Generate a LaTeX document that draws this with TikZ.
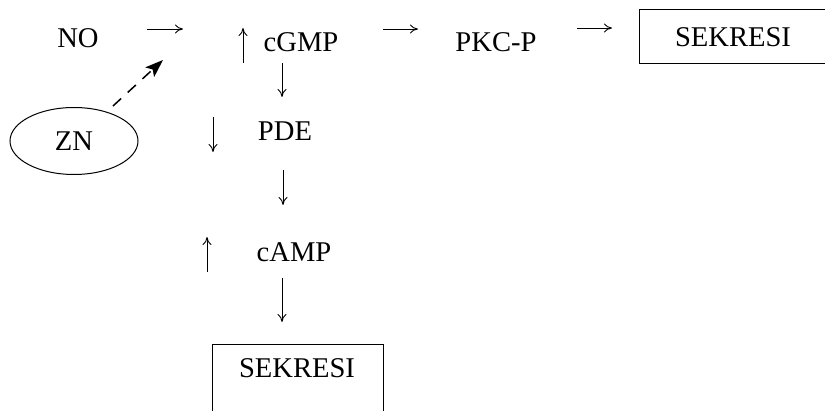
\documentclass[tikz,border=0pt]{standalone}
\usepackage{fontspec}
\setmainfont{Liberation Serif}
\usetikzlibrary{arrows.meta,shapes.geometric}
\begin{document}
\begin{tikzpicture}[x=0.5pt,y=-0.5pt,
  lbl/.style={inner sep=0pt,font=\fontsize{14.3}{17}\selectfont},
  boxnode/.style={draw,line width=0.5pt,inner sep=0pt,font=\fontsize{14.3}{17}\selectfont},
  thinarrow/.style={line width=0.45pt,-{To[length=4pt,width=4.5pt]}},
  dasharrow/.style={line width=0.75pt,dash pattern=on 5.5pt off 4.5pt,-{Stealth[length=9pt,width=6.5pt,inset=2pt]}}]
\useasboundingbox (0,0) rectangle (825,411);
% nodes
\node[lbl] (no) at (78,38) {NO};
\node[lbl] (cgmp) at (301,42) {cGMP};
\node[lbl] (pde) at (285,131) {PDE};
\node[lbl] (camp) at (294,252) {cAMP};
\node[lbl] (pkc) at (496,42) {PKC-P};
\node[boxnode,minimum width=93.5pt,minimum height=27pt] (sek1) at (733,37) {SEKRESI};
\node[draw,line width=0.5pt,ellipse,minimum width=64pt,minimum height=33.5pt,inner sep=0pt,font=\fontsize{14.3}{17}\selectfont] (zn) at (74,141) {ZN};
\draw[line width=0.5pt] (212,430) |- (383,345) -- (383,430);
\node[lbl] (sek2) at (297,368) {SEKRESI};
% arrow coordinates
\coordinate (a1s) at (147,29); \coordinate (a1e) at (183,29);
\coordinate (a2s) at (243,63); \coordinate (a2e) at (243,28);
\coordinate (a3s) at (282,63); \coordinate (a3e) at (282,97);
\coordinate (a4s) at (213,117); \coordinate (a4e) at (213,152);
\coordinate (a5s) at (283,170); \coordinate (a5e) at (283,205);
\coordinate (a6s) at (207,272); \coordinate (a6e) at (207,237);
\coordinate (a7s) at (282,278); \coordinate (a7e) at (282,322);
\coordinate (a8s) at (383,29); \coordinate (a8e) at (418,29);
\coordinate (a9s) at (577,28); \coordinate (a9e) at (612,28);
\coordinate (dss) at (113,106); \coordinate (dse) at (163,60);
\draw[thinarrow] (a1s) -- (a1e);
\draw[thinarrow] (a2s) -- (a2e);
\draw[thinarrow] (a3s) -- (a3e);
\draw[thinarrow] (a4s) -- (a4e);
\draw[thinarrow] (a5s) -- (a5e);
\draw[thinarrow] (a6s) -- (a6e);
\draw[thinarrow] (a7s) -- (a7e);
\draw[thinarrow] (a8s) -- (a8e);
\draw[thinarrow] (a9s) -- (a9e);
\draw[dasharrow] (dss) -- (dse);
\end{tikzpicture}
\end{document}
